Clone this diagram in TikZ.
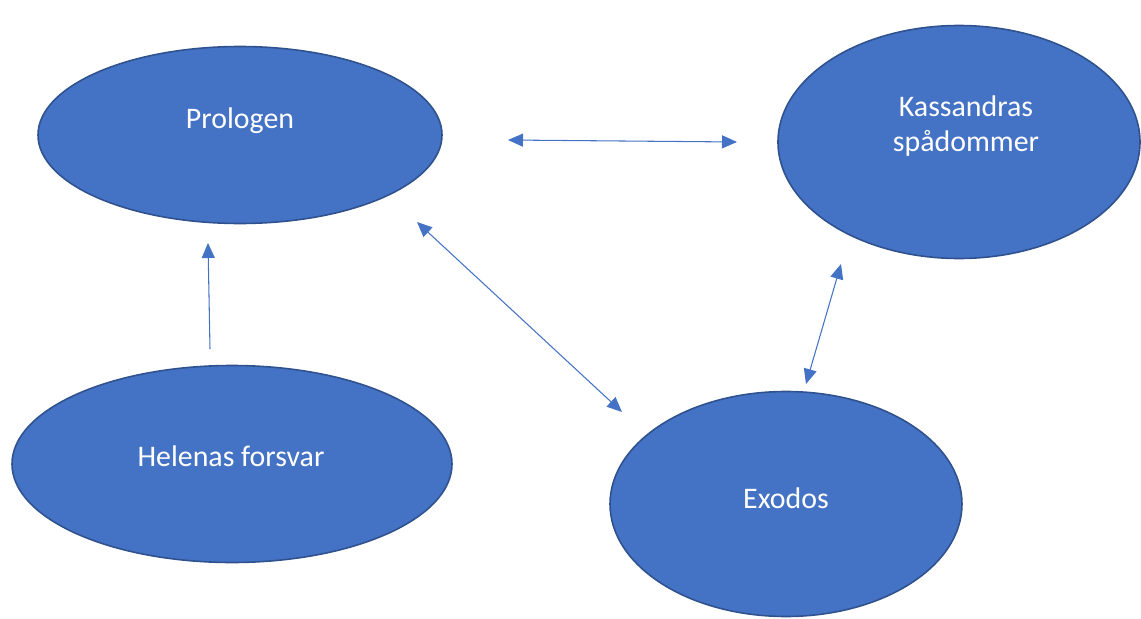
\documentclass[tikz,border=0pt]{standalone}
\usepackage{fontspec}
\setmainfont{Carlito}
\usetikzlibrary{shapes.geometric}
\usetikzlibrary{arrows.meta}
\definecolor{blobfill}{HTML}{4472C4}
\definecolor{blobline}{HTML}{2F528F}

\begin{document}
\begin{tikzpicture}[
  blob/.style={ellipse, fill=blobfill, draw=blobline, line width=0.9pt, inner sep=0pt},
  caption/.style={text=white, font=\fontsize{17}{20.4}\selectfont, align=center},
  link/.style={draw=blobfill, line width=0.6pt, -{Triangle[length=0.3cm, width=0.26cm]}},
  twoway/.style={link, {Triangle[length=0.3cm, width=0.26cm]}-{Triangle[length=0.3cm, width=0.26cm]}}
]
  \useasboundingbox (0,0) rectangle (22.82,-12.38);
  % the four parts
  \node [blob, minimum width=8.08cm, minimum height=3.54cm] (prolog) at (4.80,-2.70) {};
  \node [blob, minimum width=7.24cm, minimum height=4.66cm] (kassandra) at (19.18,-2.84) {};
  \node [blob, minimum width=8.80cm, minimum height=3.94cm] (helena) at (4.64,-9.28) {};
  \node [blob, minimum width=7.04cm, minimum height=4.50cm] (exodos) at (15.72,-10.08) {};
  \node [caption] (prologtxt) at (4.80,-2.42) {Prologen};
  \node [caption] (kassandratxt) at (19.32,-2.52) {Kassandras\\spådommer};
  \node [caption] (helenatxt) at (4.62,-9.12) {Helenas forsvar};
  \node [caption] (exodostxt) at (15.72,-9.96) {Exodos};
  % free standing arrows
  \coordinate (a1) at (10.16,-2.80);
  \coordinate (b1) at (14.74,-2.84);
  \coordinate (a2) at (8.34,-4.44);
  \coordinate (b2) at (12.44,-8.24);
  \coordinate (a3) at (16.82,-5.28);
  \coordinate (b3) at (16.12,-7.68);
  \coordinate (a4) at (4.20,-6.98);
  \coordinate (b4) at (4.16,-4.86);
  \draw [twoway] (a1) -- (b1);
  \draw [twoway] (a2) -- (b2);
  \draw [twoway] (a3) -- (b3);
  \draw [link] (a4) -- (b4);
\end{tikzpicture}
\end{document}
